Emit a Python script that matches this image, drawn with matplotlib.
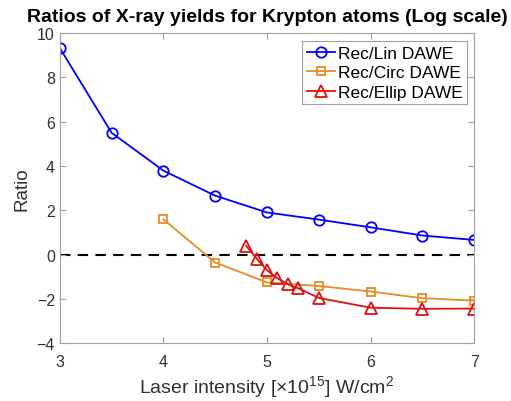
import matplotlib
matplotlib.use('Agg')
import matplotlib.pyplot as plt

# Laser intensity in units of 1e15 W/cm^2
x_lin = [3, 3.5, 4, 4.5, 5, 5.5, 6, 6.5, 7]
ratio_lin = [9.33, 5.5, 3.79, 2.66, 1.9, 1.58, 1.23, 0.86, 0.66]

x_circ = [4, 4.5, 5, 5.5, 6, 6.5, 7]
ratio_circ = [1.59, -0.36, -1.26, -1.42, -1.67, -1.97, -2.08]

x_ellip = [4.8, 4.9, 5.0, 5.1, 5.2, 5.3, 5.5, 6, 6.5, 7]
ratio_ellip = [0.39, -0.18, -0.71, -1.07, -1.34, -1.52, -1.96, -2.4, -2.45, -2.44]

plt.rcParams['font.family'] = ['Liberation Sans', 'DejaVu Sans']
plt.rcParams['mathtext.fontset'] = 'custom'
plt.rcParams['mathtext.rm'] = 'Liberation Sans'

fig = plt.figure(figsize=(5.11, 4.02), dpi=100)
ax = fig.add_axes([0.117, 0.144, 0.811, 0.771])

ax.axhline(0, color='k', ls='--', lw=1.5, dashes=(5, 3.5), zorder=1)
ax.plot(x_lin, ratio_lin, '-o', color='#0000ff', lw=1.3, ms=7.5, mfc='none', mew=1.3,
        label='Rec/Lin DAWE')
ax.plot(x_circ, ratio_circ, '-s', color='#ea8a23', lw=1.3, ms=5.5, mfc='none', mew=1.3,
        label='Rec/Circ DAWE')
ax.plot(x_ellip, ratio_ellip, '-^', color='#e01010', lw=1.3, ms=8, mfc='none', mew=1.3,
        label='Rec/Ellip DAWE')

ax.set_xlim(3, 7)
ax.set_ylim(-4, 10)
ax.set_xticks([3, 4, 5, 6, 7])
ax.set_yticks(range(-4, 11, 2))

for s in ax.spines.values():
    s.set_color('#a0a0a0')
ax.tick_params(direction='in', which='both', top=True, right=True, colors='#a0a0a0',
               labelcolor='#303030', labelsize=11.5, length=4)
ax.tick_params(axis='x', pad=8)

ax.set_xlabel(r'Laser intensity [$\times$10$^{15}$] W/cm$^2$', fontsize=14, color='#303030',
              labelpad=3)
ax.set_ylabel('Ratio', fontsize=13.5, color='#303030')
ax.set_title('Ratios of X-ray yields for Krypton atoms (Log scale)', fontsize=14,
             fontweight='bold', pad=9)

leg = ax.legend(loc='upper right', fontsize=12.5, handlelength=1.6, handletextpad=0.2,
                borderpad=0.25, labelspacing=0.25, fancybox=False, framealpha=1,
                borderaxespad=0, bbox_to_anchor=(0.983, 0.974))
leg.get_frame().set_edgecolor('#a0a0a0')
leg.get_frame().set_linewidth(0.8)

fig.savefig('out.png', dpi=100)
